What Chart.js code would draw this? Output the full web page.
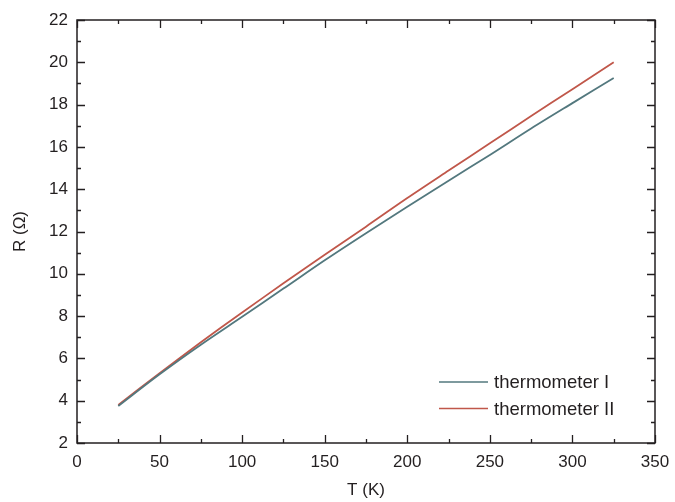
<!DOCTYPE html>
<html><head><meta charset="utf-8">
<script src="https://cdn.jsdelivr.net/npm/chart.js@4.4.1/dist/chart.umd.min.js"></script>
<style>html,body{margin:0;padding:0;background:#fff}canvas{display:block}</style>
</head><body>
<canvas id="c" width="675" height="502"></canvas>
<script>
const temperatures = [25, 50, 75, 100, 125, 150, 175, 200, 225, 250, 275, 300, 325];
const thermometerI = [3.75, 5.25, 6.65, 7.97, 9.3, 10.64, 11.92, 13.17, 14.4, 15.62, 16.87, 18.07, 19.26];
const thermometerII = [3.8, 5.3, 6.76, 8.17, 9.55, 10.9, 12.23, 13.58, 14.88, 16.17, 17.46, 18.73, 20.0];
const seriesLabels = ['thermometer I', 'thermometer II'];
const seriesColors = ['#53787e', '#c0574a'];
const xTicks = [0, 50, 100, 150, 200, 250, 300, 350];
const yTicks = [2, 4, 6, 8, 10, 12, 14, 16, 18, 20, 22];

const FONT = 'Liberation Sans, Arial, sans-serif';
const FS = 17;
const ink = '#231f20';

const framePlugin = {
  id: 'frame',
  afterDraw(chart) {
    const {ctx, chartArea: a, scales: {x, y}} = chart;
    ctx.save();
    ctx.strokeStyle = ink;
    ctx.lineWidth = 1.5;
    ctx.strokeRect(a.left, a.top, a.right - a.left, a.bottom - a.top);
    ctx.lineWidth = 1.3;
    ctx.beginPath();
    for (let v = 0; v <= 350; v += 25) {
      const px = Math.round(x.getPixelForValue(v)) + 0.5;
      const len = v % 50 === 0 ? 8 : 4;
      ctx.moveTo(px, a.bottom); ctx.lineTo(px, a.bottom - len);
      ctx.moveTo(px, a.top); ctx.lineTo(px, a.top + len);
    }
    for (let v = 2; v <= 22; v += 1) {
      const py = Math.round(y.getPixelForValue(v)) + 0.5;
      const len = v % 2 === 0 ? 8 : 4;
      ctx.moveTo(a.left, py); ctx.lineTo(a.left + len, py);
      ctx.moveTo(a.right, py); ctx.lineTo(a.right - len, py);
    }
    ctx.stroke();
    // legend
    ctx.font = '18.5px ' + FONT;
    ctx.textBaseline = 'middle';
    ctx.fillStyle = ink;
    chart.data.datasets.forEach((ds, i) => {
      const ly = 382 + i * 26.5;
      ctx.strokeStyle = ds.borderColor;
      ctx.lineWidth = 1.6;
      ctx.beginPath(); ctx.moveTo(439, ly); ctx.lineTo(488, ly); ctx.stroke();
      ctx.fillText(ds.label, 494, ly + 1);
    });
    ctx.restore();
  }
};

new Chart(document.getElementById('c'), {
  type: 'line',
  data: {
    datasets: [
      {label: seriesLabels[0], data: temperatures.map((t, i) => ({x: t, y: thermometerI[i]})), borderColor: seriesColors[0], borderWidth: 1.8, pointRadius: 0, fill: false, tension: 0.3},
      {label: seriesLabels[1], data: temperatures.map((t, i) => ({x: t, y: thermometerII[i]})), borderColor: seriesColors[1], borderWidth: 1.8, pointRadius: 0, fill: false, tension: 0.3}
    ]
  },
  options: {
    responsive: false,
    animation: false,
    devicePixelRatio: 1,
    layout: {padding: {left: 0, right: 20, top: 20, bottom: 0}},
    plugins: {legend: {display: false}, tooltip: {enabled: false}},
    scales: {
      x: {
        type: 'linear', min: 0, max: 350,
        afterBuildTicks(s) { s.ticks = xTicks.map(v => ({value: v})); },
        afterFit(s) { s.height = 59; s.paddingLeft = 0; s.paddingRight = 0; },
        grid: {display: false, drawTicks: false}, border: {display: false},
        ticks: {font: {size: FS, family: FONT}, color: ink, padding: 9, maxRotation: 0},
        title: {display: true, text: 'T (K)', font: {size: FS, family: FONT}, color: ink, padding: {top: 0, bottom: 1}}
      },
      y: {
        type: 'linear', min: 2, max: 22,
        afterBuildTicks(s) { s.ticks = yTicks.map(v => ({value: v})); },
        afterFit(s) { s.width = 77; s.paddingTop = 0; s.paddingBottom = 0; },
        grid: {display: false, drawTicks: false}, border: {display: false},
        ticks: {font: {size: FS, family: FONT}, color: ink, padding: 9},
        title: {display: true, text: 'R (\u03A9)', font: {size: FS, family: FONT}, color: ink, padding: {top: 10, bottom: 0}}
      }
    }
  },
  plugins: [framePlugin]
});
</script>
</body></html>
